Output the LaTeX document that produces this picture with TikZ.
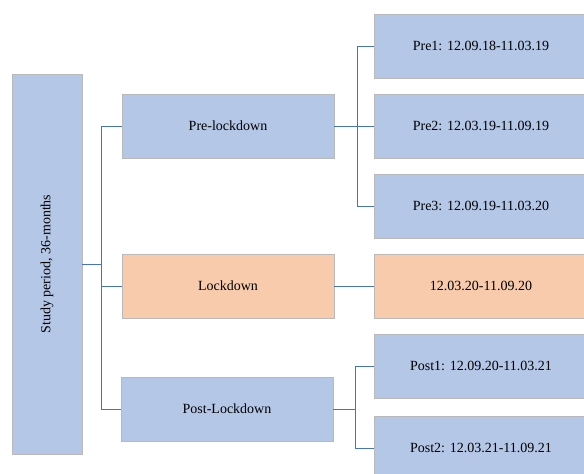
\documentclass[tikz,border=0pt]{standalone}
\usepackage{fontspec}
\setmainfont{Liberation Serif}
\usetikzlibrary{shadows}
\definecolor{boxblue}{HTML}{B4C7E7}
\definecolor{boxorange}{HTML}{F8CBAD}
\definecolor{linkblue}{HTML}{4472C4}
\begin{document}
\begin{tikzpicture}[x=1pt,y=1pt,font=\fontsize{14}{16}\selectfont,
 stage/.style={draw=gray!55,line width=0.8pt,fill=boxblue,minimum width=212pt,minimum height=64pt,inner sep=0pt,
  drop shadow={shadow xshift=0.8pt,shadow yshift=-1.2pt,opacity=0.35}},
 lock/.style={stage,fill=boxorange},
 link/.style={draw=linkblue,line width=0.8pt}]
 \useasboundingbox (0,0) rectangle (584,-474);
 \clip (0,0) rectangle (584,-474);
 % left column
 \node[stage,rotate=90,minimum width=380pt,minimum height=70pt] (study) at (47,-264) {Study period, 36-months};
 % middle column
 \node[stage] (pre) at (228,-126) {Pre-lockdown};
 \node[lock] (lock) at (228,-286) {Lockdown};
 \node[stage] (post) at (227,-409) {Post-Lockdown};
 % right column
 \node[stage,minimum width=214pt] (pre1) at (481,-46) {Pre1: 12.09.18-11.03.19};
 \node[stage,minimum width=214pt] (pre2) at (481,-126) {Pre2: 12.03.19-11.09.19};
 \node[stage,minimum width=214pt] (pre3) at (481,-206) {Pre3: 12.09.19-11.03.20};
 \node[lock,minimum width=214pt] (lockr) at (481,-286) {12.03.20-11.09.20};
 \node[stage,minimum width=214pt] (post1) at (481,-366) {Post1: 12.09.20-11.03.21};
 \node[stage,minimum width=214pt] (post2) at (481,-448) {Post2: 12.03.21-11.09.21};
 % connectors
 \draw[link] (study.south) -- ++(19,0) coordinate (hub);
 \foreach \n in {pre,lock,post}
 \draw[link] (hub) |- (\n.west);
 \draw[link] (pre.east) -- ++(23,0) coordinate (prehub);
 \foreach \n in {pre1,pre2,pre3}
 \draw[link] (prehub) |- (\n.west);
 \draw[link] (lock.east) -- (lockr.west);
 \draw[link] (post.east) -- ++(22,0) coordinate (posthub);
 \foreach \n in {post1,post2}
 \draw[link] (posthub) |- (\n.west);
\end{tikzpicture}
\end{document}
